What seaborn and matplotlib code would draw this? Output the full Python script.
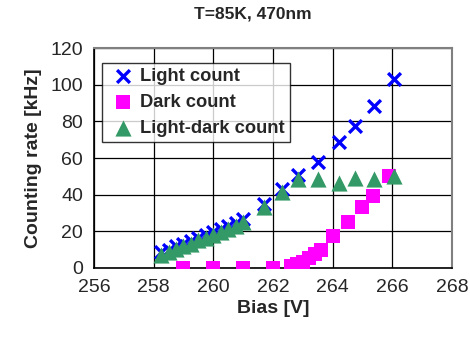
import matplotlib
matplotlib.use("Agg")
import matplotlib.pyplot as plt
import seaborn as sns
import pandas as pd

# Bias voltages [V] and counting rates [kHz]
light_bias = [258.25, 258.5, 258.75, 259.0, 259.25, 259.5, 259.75, 260.0,
              260.25, 260.5, 260.75, 261.0, 261.7, 262.3, 262.85, 263.5,
              264.2, 264.75, 265.4, 266.05]
light_count = [8.5, 10.0, 11.8, 13.2, 14.8, 16.5, 18.0, 19.5,
               21.0, 22.7, 24.5, 26.7, 34.9, 43.1, 50.8, 58.0,
               68.6, 77.2, 88.3, 102.9]

dark_bias = [259.0, 260.0, 261.0, 262.0, 262.6, 262.8, 263.0, 263.2,
             263.4, 263.6, 264.0, 264.5, 265.0, 265.35, 265.9]
dark_count = [0, 0, 0, 0, 1.0, 2.0, 3.5, 5.5,
              7.5, 10.0, 17.5, 25.0, 33.0, 39.5, 50.0]

diff_bias = light_bias
diff_count = [7.0, 8.5, 10.2, 11.8, 13.3, 15.0, 16.5, 18.0,
              19.5, 21.2, 23.0, 25.0, 33.1, 41.3, 48.3, 48.8,
              46.4, 49.1, 48.5, 50.4]

x_ticks = [256, 258, 260, 262, 264, 266, 268]
y_ticks = [0, 20, 40, 60, 80, 100, 120]

sns.set_style("white")
plt.rcParams["font.family"] = ["Liberation Sans", "DejaVu Sans"]

fig = plt.figure(figsize=(4.7, 3.41), dpi=100)
ax = fig.add_axes([0.2, 0.2141, 0.7617, 0.6451])

df_light = pd.DataFrame({"bias": light_bias, "rate": light_count})
df_dark = pd.DataFrame({"bias": dark_bias, "rate": dark_count})
df_diff = pd.DataFrame({"bias": diff_bias, "rate": diff_count})

sns.scatterplot(data=df_light, x="bias", y="rate", ax=ax, marker="x",
                s=85, color="#0000FF", linewidth=2.4, label="Light count",
                zorder=3)
sns.scatterplot(data=df_dark, x="bias", y="rate", ax=ax, marker="s",
                s=110, color="#FF00FF", linewidth=0, label="Dark count",
                zorder=4)
sns.scatterplot(data=df_diff, x="bias", y="rate", ax=ax, marker="^",
                s=135, color="#339966", linewidth=0, label="Light-dark count",
                zorder=5)

ax.set_xlim(256, 268)
ax.set_ylim(0, 120)
ax.set_xticks(x_ticks)
ax.set_yticks(y_ticks)
ax.tick_params(axis="both", labelsize=14, length=5, width=1, color="black",
               direction="out", pad=3)
ax.grid(True, color="black", linewidth=0.9)
ax.set_axisbelow(True)

for side in ("top", "right"):
    ax.spines[side].set_color("#808080")
    ax.spines[side].set_linewidth(1.5)
for side in ("left", "bottom"):
    ax.spines[side].set_color("black")
    ax.spines[side].set_linewidth(1.2)

ax.set_xlabel("Bias [V]", fontsize=14, fontweight="bold", labelpad=3)
ax.set_ylabel("Counting rate [kHz]", fontsize=14, fontweight="bold",
              labelpad=6)
fig.text(0.538, 0.958, "T=85K, 470nm", fontsize=12.5, fontweight="bold",
         ha="center", va="center")

leg = ax.legend(loc="upper left", bbox_to_anchor=(0.0215, 0.933),
                borderaxespad=0, fancybox=False, frameon=True,
                prop={"size": 13.2, "weight": "bold"},
                handletextpad=0.1, labelspacing=0.48, borderpad=0.3,
                handlelength=1.7)
leg.get_frame().set_edgecolor("black")
leg.get_frame().set_linewidth(1.0)
leg.get_frame().set_facecolor("white")
leg.set_zorder(6)

fig.savefig("out.png", dpi=100)
